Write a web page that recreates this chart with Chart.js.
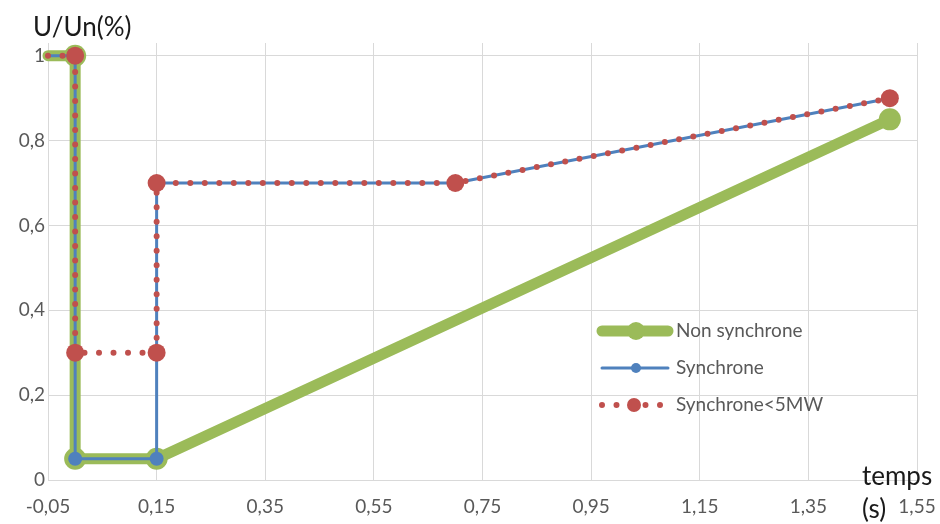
<!DOCTYPE html>
<html lang="fr">
<head>
<meta charset="UTF-8">
<title>U/Un(%)</title>
<style>
  body { margin: 0; background: #fff; }
  #wrap { width: 940px; height: 524px; }
</style>
</head>
<body>
<div id="wrap"><canvas id="chart" width="940" height="524"></canvas></div>

<script src="https://cdn.jsdelivr.net/npm/chart.js"></script>
<script>
  // series (time in s, voltage ratio)
  const seriesNames = ['Non synchrone', 'Synchrone', 'Synchrone<5MW'];
  const nonSyncX = [-0.05, 0, 0, 0.15, 1.5];
  const nonSyncY = [1, 1, 0.05, 0.05, 0.85];
  const syncX = [-0.05, 0, 0, 0.15, 0.15, 0.7, 1.5];
  const syncY = [1, 1, 0.05, 0.05, 0.7, 0.7, 0.9];
  const smallX = [-0.05, 0, 0, 0.15, 0.15, 0.7, 1.5];
  const smallY = [1, 1, 0.3, 0.3, 0.7, 0.7, 0.9];
  const xTicks = [-0.05, 0.15, 0.35, 0.55, 0.75, 0.95, 1.15, 1.35, 1.55];
  const yTicks = [0, 0.2, 0.4, 0.6, 0.8, 1];

  const GREEN = '#9bbb59', BLUE = '#4f81bd', RED = '#c0504d';
  const FONT = 'Lato, "Open Sans", sans-serif';

  const pts = (xs, ys) => xs.map((x, i) => ({ x: x, y: ys[i] }));
  // first point sits on the left edge, no marker there
  const radii = (n, r) => Array.from({ length: n }, (_, i) => i === 0 ? 0 : r);
  const comma = v => String(Math.round(v * 100) / 100).replace('.', ',');

  const styles = [
    { color: GREEN, width: 11, radius: 11, dash: [] },
    { color: BLUE, width: 3, radius: 7, dash: [] },
    { color: RED, width: 6, radius: 9, dash: [0, 14.5] }
  ];

  const extras = {
    id: 'extras',
    afterDraw(chart) {
      const ctx = chart.ctx;
      ctx.save();
      ctx.fillStyle = '#1a1a1a';
      ctx.textBaseline = 'middle';
      ctx.textAlign = 'left';
      ctx.font = '26px ' + FONT;
      ctx.fillText('U/Un(%)', 33, 28);
      ctx.fillText('temps', 862, 477);
      ctx.fillText('(s)', 862, 510);

      // legend inside the plot
      styles.forEach((s, i) => {
        const y = 331 + i * 37;
        ctx.strokeStyle = s.color;
        ctx.lineWidth = s.width;
        ctx.lineCap = 'round';
        ctx.setLineDash(s.dash);
        ctx.beginPath();
        ctx.moveTo(602, y);
        ctx.lineTo(i === 2 ? 664 : 668, y);
        ctx.stroke();
        ctx.setLineDash([]);
        ctx.fillStyle = s.color;
        ctx.beginPath();
        ctx.arc(i === 2 ? 634 : 636, y, s.radius - 2, 0, Math.PI * 2);
        ctx.fill();
        ctx.fillStyle = '#595959';
        ctx.font = '19px ' + FONT;
        ctx.fillText(seriesNames[i], 676, y);
      });
      ctx.restore();
    }
  };

  const series = [pts(nonSyncX, nonSyncY), pts(syncX, syncY), pts(smallX, smallY)];

  new Chart(document.getElementById('chart'), {
    type: 'scatter',
    data: {
      datasets: series.map((d, i) => ({
        label: seriesNames[i],
        data: d,
        showLine: true,
        order: 2 - i,
        borderColor: styles[i].color,
        backgroundColor: styles[i].color,
        borderWidth: styles[i].width,
        borderDash: styles[i].dash,
        borderCapStyle: 'round',
        borderJoinStyle: 'round',
        pointRadius: radii(d.length, styles[i].radius),
        pointBorderWidth: 0,
        pointBackgroundColor: styles[i].color,
        clip: false
      }))
    },
    options: {
      responsive: false,
      animation: false,
      devicePixelRatio: 1,
      layout: { padding: { top: 43, right: 23, left: 0, bottom: 0 } },
      plugins: { legend: { display: false }, tooltip: { enabled: false } },
      scales: {
        x: {
          type: 'linear',
          min: -0.05,
          max: 1.55,
          afterBuildTicks: s => { s.ticks = xTicks.map(v => ({ value: v })); },
          afterFit: s => { s.height = 44; s.paddingLeft = 0; s.paddingRight = 0; },
          grid: { color: '#d9d9d9', drawTicks: false },
          border: { color: '#d9d9d9' },
          ticks: {
            padding: 15,
            color: '#595959',
            font: { family: FONT, size: 19 },
            callback: v => comma(v)
          }
        },
        y: {
          type: 'linear',
          min: 0,
          max: 1.03,
          afterBuildTicks: s => { s.ticks = yTicks.map(v => ({ value: v })); },
          afterFit: s => { s.width = 48; s.paddingTop = 0; s.paddingBottom = 0; },
          grid: { color: '#d9d9d9', drawTicks: false },
          border: { color: '#d9d9d9' },
          ticks: {
            padding: 3,
            color: '#595959',
            font: { family: FONT, size: 19 },
            callback: v => comma(v)
          }
        }
      }
    },
    plugins: [extras]
  });
</script>
</body>
</html>
